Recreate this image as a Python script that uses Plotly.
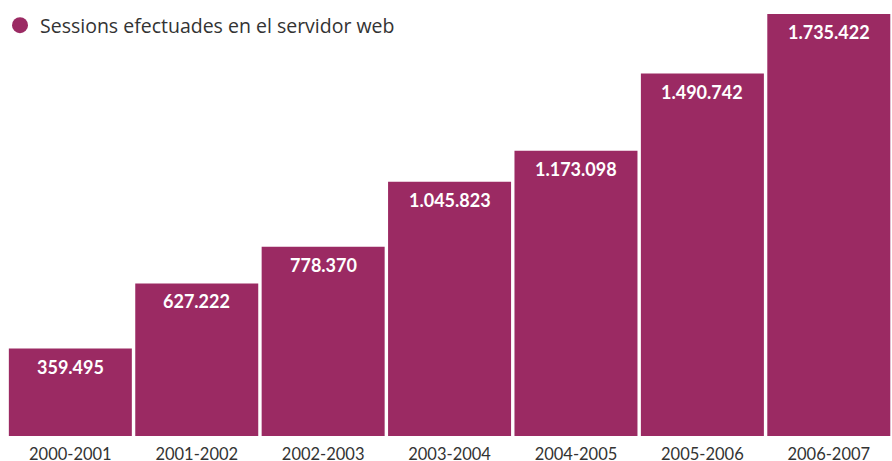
import plotly.graph_objects as go

categories = ["2000-2001", "2001-2002", "2002-2003", "2003-2004", "2004-2005", "2005-2006", "2006-2007"]
sessions = [359495, 627222, 778370, 1045823, 1173098, 1490742, 1735422]
series_name = "Sessions efectuades en el servidor web"

BAR_COLOR = "#9B2A63"
FONT = "Lato"

labels = [f"{v:,}".replace(",", ".") for v in sessions]

fig = go.Figure()
fig.add_trace(go.Bar(
    x=categories, y=sessions, marker=dict(color=BAR_COLOR, line=dict(width=0)),
    showlegend=False, hoverinfo="skip",
))
fig.add_trace(go.Scatter(
    x=[None], y=[None], mode="markers", name=series_name,
    marker=dict(color=BAR_COLOR, size=16, symbol="circle"),
))

for c, v, t in zip(categories, sessions, labels):
    fig.add_annotation(
        x=c, y=v, text=f"<b>{t}</b>", showarrow=False,
        yanchor="top", yshift=-5,
        font=dict(family=FONT, size=18, color="white"),
    )

fig.update_layout(
    width=892, height=461,
    margin=dict(l=0, r=0, t=14, b=25, autoexpand=False),
    paper_bgcolor="white", plot_bgcolor="white",
    bargap=0.027,
    font=dict(family=FONT, color="#333333"),
    xaxis=dict(domain=[0.008, 1], showgrid=False, showline=False, zeroline=False,
               ticks="outside", ticklen=3, tickcolor="rgba(0,0,0,0)", automargin=False,
               tickfont=dict(family=FONT, size=16.5, color="#333333")),
    yaxis=dict(visible=False, range=[0, max(sessions)], fixedrange=True, automargin=False),
    legend=dict(x=0, y=1.019, xanchor="left", yanchor="top",
                font=dict(family="Open Sans", size=19.5, color="#333333"),
                bgcolor="rgba(0,0,0,0)"),
    showlegend=True,
)

fig.write_html(
    "out.html",
    config={"displayModeBar": False},
    post_script="document.body.style.margin='0';document.body.style.overflow='hidden';",
)
